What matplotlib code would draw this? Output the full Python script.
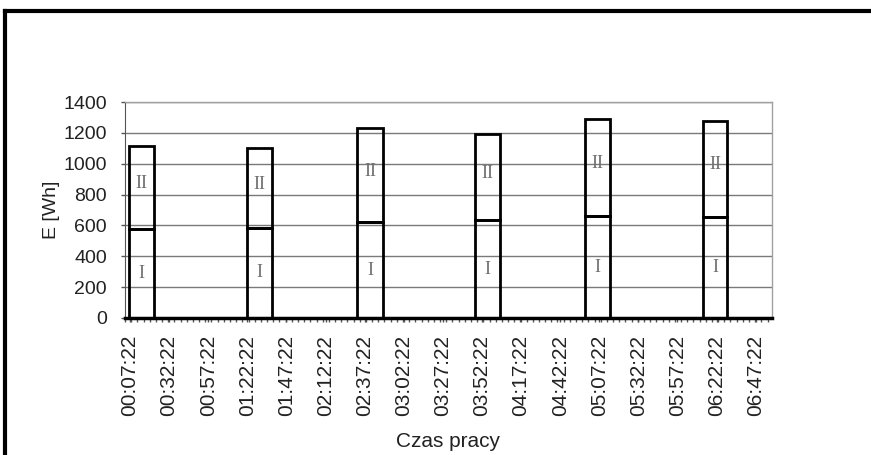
import matplotlib
matplotlib.use('Agg')
import numpy as np
import matplotlib.pyplot as plt
from matplotlib.lines import Line2D
from matplotlib import rcParams
rcParams['font.family'] = 'Liberation Sans'

# working periods (minutes from 00:00:00) and energy of both parts [Wh]
start_min = [6.7, 82.2, 152.5, 228.0, 298.3, 373.7]
end_min = [22.7, 98.2, 169.1, 244.0, 314.3, 389.1]
energy_I = [575, 585, 622, 632, 661, 657]
energy_total = [1115, 1100, 1230, 1190, 1288, 1277]
energy_II = [t - a for t, a in zip(energy_total, energy_I)]

tick_labels = ['00:07:22', '00:32:22', '00:57:22', '01:22:22', '01:47:22',
               '02:12:22', '02:37:22', '03:02:22', '03:27:22', '03:52:22',
               '04:17:22', '04:42:22', '05:07:22', '05:32:22', '05:57:22',
               '06:22:22', '06:47:22']
tick_pos = [7 + 22 / 60.0 + 25 * i for i in range(len(tick_labels))]

fig = plt.figure(figsize=(8.71, 4.55), dpi=100)
ax = fig.add_axes([0.1435, 0.3011, 0.7428, 0.4747])

ax.set_xlim(4.17, 417.8)
ax.set_ylim(0, 1400)

ax.yaxis.grid(True, color='#7a7a7a', lw=1.0)
ax.set_axisbelow(True)

widths = [e - s for s, e in zip(start_min, end_min)]
ax.bar(start_min, energy_I, width=widths, align='edge', facecolor='none',
       edgecolor='black', lw=2.0, zorder=3)
ax.bar(start_min, energy_II, width=widths, bottom=energy_I, align='edge',
       facecolor='none', edgecolor='black', lw=2.0, zorder=3)
ax.axhline(0, color='black', lw=2.5, zorder=4, clip_on=False)

for s, w, a, t in zip(start_min, widths, energy_I, energy_total):
    ax.text(s + w / 2, a / 2, 'I', ha='center', va='center', color='#707070',
            fontsize=13, family='Liberation Serif', zorder=5)
    ax.text(s + w / 2, (a + t) / 2 + 25, 'II', ha='center', va='center',
            color='#707070', fontsize=13, family='Liberation Serif', zorder=5)

ax.set_yticks(np.arange(0, 1401, 200))
ax.set_xticks(tick_pos)
ax.set_xticklabels(tick_labels, rotation=90)
ax.set_xticks(np.arange(4.17, 418, 3.95), minor=True)
ax.tick_params(axis='x', which='both', length=3, width=1, color='#555555',
               labelsize=15, labelcolor='#222222', pad=9)
ax.tick_params(axis='y', length=3, width=1, color='#555555', labelsize=14,
               labelcolor='#222222', pad=10)

for side in ['top', 'right']:
    ax.spines[side].set_color('#a0a0a0')
    ax.spines[side].set_linewidth(1.0)
ax.spines['left'].set_color('#555555')
ax.spines['bottom'].set_color('black')

ax.set_ylabel('E [Wh]', fontsize=14, color='#222222')
ax.yaxis.set_label_coords(-0.1, 0.5)
ax.set_xlabel('Czas pracy', fontsize=15, color='#222222')
ax.xaxis.set_label_coords(0.5, -0.528)

# black frame of the picture
fig.add_artist(Line2D([5 / 871.0, 1.0], [1 - 11 / 455.0, 1 - 11 / 455.0],
                      transform=fig.transFigure, color='black', lw=3))
fig.add_artist(Line2D([5 / 871.0, 5 / 871.0], [0, 1 - 11 / 455.0],
                      transform=fig.transFigure, color='black', lw=3))

plt.savefig('out.png', dpi=100)
